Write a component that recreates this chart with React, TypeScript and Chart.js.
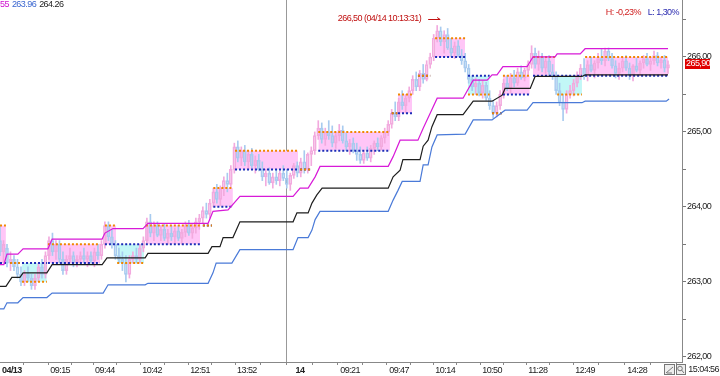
import React, { useEffect, useRef } from "react";
import { Chart, registerables } from "chart.js";

Chart.register(...registerables);

const FONT = "'Liberation Sans', Arial, sans-serif";
const LETTER = "-0.55px";

// ---- axes ----
const X_MAX = 195;
const Y_MIN = 261.93;
const Y_MAX = 266.76;
const xTickPos = [3.4, 17.2, 30, 43.5, 57.2, 70.6, 85.8, 100.1, 114.1, 127.3, 140.7, 153.8, 167.3, 182.2];
const xTickLabels = ["04/13", "09:15", "09:44", "10:42", "12:51", "13:52", "14", "09:21", "09:47", "10:14", "10:50", "11:28", "12:49", "14:28"];
const dayBreaks = [3.4, 85.8];
const yTickValues = [262, 262.5, 263, 263.5, 264, 264.5, 265, 265.5, 266, 266.5];

// ---- candles: [open, high, low, close], one per bar index ----
const ohlc: [number, number, number, number][] = [
  [263.55, 263.75, 263.35, 263.40], [263.40, 263.55, 263.25, 263.50], [263.45, 263.50, 263.20, 263.25],
  [263.25, 263.40, 263.15, 263.30], [263.30, 263.35, 263.15, 263.20], [263.20, 263.30, 263.05, 263.10],
  [263.10, 263.20, 262.95, 263.00], [263.00, 263.15, 262.95, 263.10], [263.10, 263.20, 263.00, 263.05],
  [263.05, 263.10, 262.90, 262.95], [262.95, 263.10, 262.90, 263.05], [263.05, 263.25, 263.00, 263.20],
  [263.20, 263.30, 263.05, 263.10], [263.10, 263.40, 263.05, 263.35], [263.35, 263.60, 263.30, 263.55],
  [263.55, 263.65, 263.35, 263.40], [263.40, 263.55, 263.30, 263.50], [263.50, 263.55, 263.25, 263.30],
  [263.30, 263.40, 263.10, 263.15], [263.15, 263.35, 263.10, 263.30], [263.30, 263.45, 263.25, 263.35],
  [263.35, 263.40, 263.20, 263.25], [263.25, 263.35, 263.20, 263.30], [263.30, 263.40, 263.25, 263.35],
  [263.35, 263.45, 263.25, 263.30], [263.30, 263.40, 263.20, 263.35], [263.35, 263.40, 263.25, 263.28],
  [263.28, 263.45, 263.20, 263.40], [263.40, 263.50, 263.30, 263.35], [263.35, 263.55, 263.30, 263.50],
  [263.50, 263.80, 263.45, 263.75], [263.75, 263.80, 263.55, 263.60], [263.60, 263.70, 263.45, 263.50],
  [263.50, 263.55, 263.30, 263.35], [263.35, 263.45, 263.25, 263.30], [263.30, 263.40, 263.15, 263.25],
  [263.25, 263.35, 263.00, 263.10], [263.10, 263.35, 263.05, 263.30], [263.30, 263.40, 263.25, 263.35],
  [263.35, 263.45, 263.25, 263.30], [263.30, 263.50, 263.25, 263.45], [263.45, 263.60, 263.40, 263.55],
  [263.55, 263.85, 263.50, 263.80], [263.80, 263.90, 263.60, 263.65], [263.65, 263.80, 263.55, 263.75],
  [263.75, 263.80, 263.60, 263.62], [263.62, 263.75, 263.55, 263.70], [263.70, 263.78, 263.55, 263.58],
  [263.58, 263.70, 263.50, 263.65], [263.65, 263.75, 263.55, 263.60], [263.60, 263.72, 263.52, 263.68],
  [263.68, 263.75, 263.55, 263.58], [263.58, 263.70, 263.50, 263.66], [263.66, 263.80, 263.60, 263.75],
  [263.75, 263.82, 263.62, 263.65], [263.65, 263.78, 263.58, 263.72], [263.72, 263.85, 263.65, 263.80],
  [263.80, 263.90, 263.70, 263.85], [263.85, 264.00, 263.78, 263.95], [263.95, 264.05, 263.85, 263.90],
  [263.90, 264.10, 263.85, 264.05], [264.05, 264.25, 264.00, 264.20], [264.20, 264.30, 264.05, 264.10],
  [264.10, 264.28, 264.02, 264.25], [264.25, 264.40, 264.15, 264.35], [264.35, 264.45, 264.20, 264.30],
  [264.30, 264.55, 264.25, 264.50], [264.50, 264.85, 264.45, 264.80], [264.80, 264.88, 264.60, 264.65],
  [264.65, 264.80, 264.55, 264.75], [264.75, 264.82, 264.55, 264.60], [264.60, 264.75, 264.50, 264.70],
  [264.70, 264.78, 264.52, 264.55], [264.55, 264.68, 264.45, 264.62], [264.62, 264.70, 264.48, 264.50],
  [264.50, 264.60, 264.35, 264.40], [264.40, 264.50, 264.28, 264.45], [264.45, 264.52, 264.30, 264.32],
  [264.32, 264.45, 264.25, 264.40], [264.40, 264.50, 264.30, 264.35], [264.35, 264.48, 264.28, 264.45],
  [264.45, 264.55, 264.35, 264.38], [264.38, 264.50, 264.25, 264.30], [264.30, 264.45, 264.22, 264.42],
  [264.42, 264.58, 264.38, 264.55], [264.55, 264.60, 264.40, 264.45], [264.45, 264.65, 264.40, 264.60],
  [264.60, 264.75, 264.45, 264.50], [264.50, 264.72, 264.45, 264.70], [264.70, 264.80, 264.55, 264.75],
  [264.75, 265.00, 264.70, 264.95], [264.95, 265.15, 264.90, 265.05], [265.05, 265.12, 264.85, 264.90],
  [264.90, 265.05, 264.82, 265.00], [265.00, 265.15, 264.90, 264.95], [264.95, 265.08, 264.80, 264.85],
  [264.85, 265.00, 264.78, 264.95], [264.95, 265.10, 264.88, 265.02], [265.02, 265.08, 264.85, 264.88],
  [264.88, 264.98, 264.75, 264.80], [264.80, 264.90, 264.70, 264.85], [264.85, 264.92, 264.72, 264.75],
  [264.75, 264.85, 264.62, 264.70], [264.70, 264.80, 264.58, 264.62], [264.62, 264.75, 264.58, 264.72],
  [264.72, 264.80, 264.62, 264.65], [264.65, 264.82, 264.60, 264.78], [264.78, 264.88, 264.70, 264.85],
  [264.85, 264.92, 264.75, 264.80], [264.80, 264.95, 264.76, 264.92], [264.92, 265.05, 264.85, 265.00],
  [265.00, 265.15, 264.95, 265.10], [265.10, 265.30, 265.05, 265.25], [265.25, 265.40, 265.15, 265.20],
  [265.20, 265.45, 265.15, 265.40], [265.40, 265.55, 265.30, 265.35], [265.35, 265.50, 265.25, 265.45],
  [265.45, 265.60, 265.40, 265.55], [265.55, 265.75, 265.50, 265.70], [265.70, 265.80, 265.55, 265.60],
  [265.60, 265.82, 265.55, 265.78], [265.78, 265.90, 265.65, 265.70], [265.70, 265.95, 265.68, 265.90],
  [265.90, 266.05, 265.85, 266.00], [266.00, 266.30, 265.95, 266.25], [266.25, 266.42, 266.20, 266.35],
  [266.35, 266.40, 266.15, 266.20], [266.20, 266.35, 266.05, 266.30], [266.30, 266.38, 266.10, 266.12],
  [266.12, 266.25, 266.00, 266.05], [266.05, 266.20, 265.98, 266.15], [266.15, 266.22, 266.00, 266.02],
  [266.02, 266.10, 265.90, 265.95], [265.95, 266.05, 265.80, 265.85], [265.85, 265.90, 265.65, 265.70],
  [265.70, 265.75, 265.55, 265.60], [265.60, 265.72, 265.50, 265.65], [265.65, 265.70, 265.48, 265.52],
  [265.52, 265.68, 265.45, 265.62], [265.62, 265.66, 265.42, 265.45], [265.45, 265.55, 265.30, 265.35],
  [265.35, 265.42, 265.18, 265.25], [265.25, 265.40, 265.20, 265.35], [265.35, 265.55, 265.30, 265.50],
  [265.50, 265.70, 265.45, 265.65], [265.65, 265.75, 265.55, 265.58], [265.58, 265.78, 265.52, 265.72],
  [265.72, 265.82, 265.60, 265.65], [265.65, 265.85, 265.62, 265.80], [265.80, 265.88, 265.70, 265.72],
  [265.72, 265.85, 265.68, 265.82], [265.82, 265.95, 265.75, 265.90], [265.90, 266.15, 265.85, 266.05],
  [266.05, 266.12, 265.85, 265.90], [265.90, 266.08, 265.82, 266.00], [266.00, 266.05, 265.80, 265.85],
  [265.85, 265.98, 265.78, 265.95], [265.95, 266.02, 265.75, 265.80], [265.80, 265.90, 265.70, 265.75],
  [265.75, 265.80, 265.50, 265.55], [265.55, 265.65, 265.35, 265.40], [265.40, 265.50, 265.15, 265.30],
  [265.30, 265.55, 265.25, 265.50], [265.50, 265.62, 265.45, 265.55], [265.55, 265.70, 265.48, 265.65],
  [265.65, 265.80, 265.60, 265.75], [265.75, 265.90, 265.70, 265.85], [265.85, 265.98, 265.70, 265.75],
  [265.75, 265.95, 265.68, 265.90], [265.90, 266.00, 265.80, 265.82], [265.82, 265.95, 265.72, 265.92],
  [265.92, 266.05, 265.85, 265.98], [265.98, 266.10, 265.90, 265.95], [265.95, 266.12, 265.88, 266.08],
  [266.08, 266.12, 265.95, 265.98], [265.98, 266.05, 265.85, 265.88], [265.88, 265.95, 265.72, 265.78],
  [265.78, 265.92, 265.70, 265.85], [265.85, 266.00, 265.80, 265.95], [265.95, 266.02, 265.82, 265.85],
  [265.85, 265.92, 265.70, 265.75], [265.75, 265.90, 265.68, 265.88], [265.88, 265.98, 265.80, 265.82],
  [265.82, 265.95, 265.75, 265.92], [265.92, 266.02, 265.85, 265.98], [265.98, 266.05, 265.88, 265.90],
  [265.90, 266.00, 265.82, 265.95], [265.95, 266.08, 265.90, 266.02], [266.02, 266.06, 265.88, 265.92],
  [265.92, 266.00, 265.85, 265.96], [265.96, 266.02, 265.80, 265.85], [265.85, 265.95, 265.78, 265.90],
];

// ---- stepped envelope lines: [bar index, price] ----
const magentaLine: [number, number][] = [
  [0, 263.23], [1.1, 263.23], [2, 263.37], [5.1, 263.37], [6.6, 263.44], [13.7, 263.44], [14.9, 263.57],
  [29.2, 263.57], [30, 263.65], [32.3, 263.71], [40.9, 263.71], [42.3, 263.78], [59.5, 263.78], [60.9, 263.94],
  [65.2, 263.96], [68.6, 264.14], [83.8, 264.14], [85.8, 264.25], [88.1, 264.25], [90.1, 264.4], [91.5, 264.54],
  [111, 264.54], [112.4, 264.67], [114.4, 264.89], [119.5, 264.89], [121, 265.05], [123, 265.25], [125, 265.45],
  [132.4, 265.45], [135.3, 265.69], [139.3, 265.69], [140.7, 265.76], [142.1, 265.76], [143.8, 265.87],
  [150.7, 265.87], [152.4, 266.0], [158.7, 266.0], [159.3, 266.04], [165.9, 266.04], [167.3, 266.11], [191, 266.11],
];
const blackLine: [number, number][] = [
  [0, 262.94], [1.7, 262.94], [3.4, 263.06], [5.7, 263.06], [6.6, 263.12], [13.4, 263.12], [14.9, 263.23],
  [29.2, 263.23], [30.6, 263.32], [41.5, 263.32], [42.3, 263.38], [59.5, 263.38], [60.6, 263.47], [62.9, 263.47],
  [63.8, 263.59], [66.6, 263.59], [68.6, 263.8], [83.8, 263.8], [84.9, 263.92], [88.1, 263.92], [89.2, 264.05],
  [90.6, 264.16], [92.1, 264.25], [111, 264.25], [112.4, 264.4], [114.4, 264.49], [115.2, 264.63], [120.1, 264.63],
  [121, 264.81], [122.4, 264.89], [123.5, 265.07], [125, 265.23], [132.4, 265.23], [135.3, 265.41], [140.7, 265.41],
  [143.6, 265.49], [144.4, 265.58], [151.6, 265.58], [153, 265.74], [166.4, 265.74], [167.3, 265.76], [191, 265.76],
];
const blueLine: [number, number][] = [
  [0, 262.64], [1.1, 262.64], [2, 262.72], [5.1, 262.72], [6.6, 262.79], [13.4, 262.79], [14.9, 262.85],
  [29.5, 262.85], [30.9, 262.96], [41.5, 262.96], [42.3, 262.98], [59.5, 262.98], [60.9, 263.12], [61.8, 263.25],
  [66.3, 263.25], [68.6, 263.43], [83.8, 263.43], [85.2, 263.59], [88.1, 263.59], [89.2, 263.69], [90.1, 263.83],
  [91.5, 263.94], [111, 263.94], [112.4, 264.09], [113.8, 264.22], [115, 264.34], [120.1, 264.34], [121, 264.56],
  [122.4, 264.56], [123.5, 264.8], [125, 264.96], [133, 264.97], [135.3, 265.16], [140.7, 265.16], [144.4, 265.29],
  [150.7, 265.29], [152.4, 265.39], [166.4, 265.39], [167.3, 265.41], [190.5, 265.41], [191.3, 265.44],
];

// ---- level boxes (orange dotted level vs blue dotted level) ----
const boxStart = [0, 2.9, 6.3, 13.7, 30, 33.5, 41.7, 58, 61, 67.2, 85.8, 91, 112, 113.8, 119.5, 124.4, 133.8, 140.7, 143.8, 152.4, 159.3, 167.3];
const boxEnd = [1.7, 5.7, 13.4, 28.6, 33.2, 41.2, 57.2, 60.6, 66.6, 85.2, 89.2, 111.5, 113.6, 117.8, 123, 133, 140, 143.5, 151.5, 158.7, 166.4, 191];
const boxOrange = [263.75, 263.25, 263.0, 263.5, 263.75, 263.25, 263.75, 263.75, 264.25, 264.75, 264.5, 265.0, 265.25, 265.5, 265.75, 266.25, 265.5, 265.25, 265.75, 266.0, 265.5, 266.0];
const boxBlue = [263.25, 263.25, 263.25, 263.25, 263.5, 263.5, 263.5, 263.75, 264.0, 264.5, 264.5, 264.75, 265.25, 265.25, 265.75, 266.0, 265.75, 265.25, 265.5, 265.75, 265.75, 265.75];

// ---- texts ----
const headerParts: [string, string][] = [["55", "#d010d0"], ["263.96", "#3a66d0"], ["264.26", "#222222"]];
const hiLoParts: [string, string][] = [["H: -0,23%", "#d02020"], ["L: 1,30%", "#2a2ab0"]];
const highNote = "266,50 (04/14 10:13:31)";
const highBar = 125;
const highLevel = 266.5;
const lastPrice = 265.9;
const lastPriceText = "265,90";
const clockText = "15:04:56";

const UP = "#f2aade";
const DOWN = "#a8cbef";

const boxPoints = (levels: number[]) =>
  boxStart.flatMap((s, i) => [
    { x: s, y: levels[i] },
    { x: boxEnd[i], y: levels[i] },
    { x: (boxEnd[i] + (i + 1 < boxStart.length ? boxStart[i + 1] : boxEnd[i] + 1)) / 2, y: null as any },
  ]);

const spacingPlugin = {
  id: "spacing",
  beforeLayout(chart: any) {
    (chart.ctx as any).letterSpacing = LETTER;
  },
  beforeDraw(chart: any) {
    (chart.ctx as any).letterSpacing = LETTER;
  },
};

const overlayPlugin = {
  id: "overlay",
  afterDraw(chart: any) {
    const { ctx, chartArea, scales } = chart;
    const xs = scales.x;
    const ys = scales.y;
    ctx.save();
    (ctx as any).letterSpacing = LETTER;
    ctx.font = `9px ${FONT}`;
    ctx.textBaseline = "middle";
    ctx.textAlign = "left";
    let px = 0;
    for (const [t, c] of headerParts) {
      ctx.fillStyle = c;
      ctx.fillText(t, px, 5);
      px += ctx.measureText(t).width + 3;
    }
    ctx.textAlign = "right";
    let rx = chartArea.right - 3;
    for (let i = hiLoParts.length - 1; i >= 0; i--) {
      const [t, c] = hiLoParts[i];
      ctx.fillStyle = c;
      ctx.fillText(t, rx, 13);
      rx -= ctx.measureText(t).width + 7;
    }
    const hx = xs.getPixelForValue(highBar);
    const hy = ys.getPixelForValue(highLevel);
    ctx.fillStyle = "#c01010";
    ctx.fillText(highNote, hx - 16, hy - 1);
    ctx.strokeStyle = "#c01010";
    ctx.lineWidth = 1;
    ctx.beginPath();
    ctx.moveTo(hx - 9, Math.round(hy) + 0.5);
    ctx.lineTo(hx + 3, Math.round(hy) + 0.5);
    ctx.moveTo(hx + 3, Math.round(hy) + 0.5);
    ctx.lineTo(hx, Math.round(hy) - 1.5);
    ctx.stroke();
    // last price box
    const py = Math.round(ys.getPixelForValue(lastPrice));
    ctx.fillStyle = "#e00000";
    ctx.fillRect(chartArea.right + 3, py - 5, 25, 10);
    ctx.fillStyle = "#ffffff";
    ctx.textAlign = "left";
    ctx.fillText(lastPriceText, chartArea.right + 4, py);
    // bottom-right icons and clock
    const iy = chartArea.bottom + 2;
    const ix = 664.5;
    ctx.strokeStyle = "#777";
    ctx.fillStyle = "#eeeeee";
    ctx.fillRect(ix, iy + 0.5, 10, 10);
    ctx.strokeRect(ix, iy + 0.5, 10, 10);
    ctx.fillRect(ix + 12, iy + 0.5, 9, 10);
    ctx.strokeRect(ix + 12, iy + 0.5, 9, 10);
    ctx.beginPath();
    ctx.moveTo(ix + 1.5, iy + 9);
    ctx.lineTo(ix + 8.5, iy + 3);
    ctx.moveTo(ix + 2.5, iy + 9);
    ctx.lineTo(ix + 7.5, iy + 9);
    ctx.stroke();
    ctx.beginPath();
    ctx.arc(ix + 15.5, iy + 4.5, 2.3, 0, Math.PI * 2);
    ctx.moveTo(ix + 17, iy + 6);
    ctx.lineTo(ix + 19.5, iy + 9);
    ctx.stroke();
    ctx.fillStyle = "#222";
    ctx.textAlign = "right";
    ctx.fillText(clockText, 719, iy + 6);
    ctx.restore();
  },
};

export default function App() {
  const ref = useRef<HTMLCanvasElement>(null);
  useEffect(() => {
    const bodies = ohlc.map(([o, , , c], i) => ({ x: i, y: [Math.min(o, c), Math.max(o, c)] }));
    const bodyColors = ohlc.map(([o, , , c]) => (c >= o ? UP : DOWN));
    const upperWicks = ohlc.map(([o, h, , c], i) => ({ x: i, y: [Math.max(o, c), h] }));
    const lowerWicks = ohlc.map(([o, , l, c], i) => ({ x: i, y: [l, Math.min(o, c)] }));
    const toPts = (arr: [number, number][]) => arr.map(([x, y]) => ({ x, y }));
    const lineCommon = { type: "line" as const, pointRadius: 0, borderWidth: 1.2, tension: 0, fill: false, order: 0 };

    const chart = new Chart(ref.current as HTMLCanvasElement, {
      type: "line",
      data: {
        datasets: [
          { ...lineCommon, data: toPts(magentaLine), borderColor: "#d81ad8" },
          { ...lineCommon, data: toPts(blackLine), borderColor: "#1e1e1e" },
          { ...lineCommon, data: toPts(blueLine), borderColor: "#4a7ad8" },
          {
            type: "line",
            data: boxPoints(boxOrange),
            borderColor: "#f08800",
            borderWidth: 2,
            borderDash: [2, 2],
            pointRadius: 0,
            spanGaps: false,
            fill: { target: 4, above: "#ffc6f7", below: "#c2f7f7" },
            order: 1,
          },
          {
            type: "line",
            data: boxPoints(boxBlue),
            borderColor: "#1c2cb8",
            borderWidth: 2,
            borderDash: [2, 2],
            pointRadius: 0,
            spanGaps: false,
            fill: false,
            order: 1,
          },
          {
            type: "bar",
            data: bodies as any,
            backgroundColor: "rgba(255,255,255,0)",
            borderColor: bodyColors,
            borderWidth: 1,
            borderSkipped: false,
            barThickness: 3,
            minBarLength: 1,
            grouped: false,
            order: 2,
          },
          {
            type: "bar",
            data: upperWicks as any,
            backgroundColor: bodyColors,
            borderWidth: 0,
            barThickness: 1,
            grouped: false,
            order: 3,
          },
          {
            type: "bar",
            data: lowerWicks as any,
            backgroundColor: bodyColors,
            borderWidth: 0,
            barThickness: 1,
            grouped: false,
            order: 3,
          },
        ] as any,
      },
      options: {
        responsive: false,
        animation: false,
        devicePixelRatio: 1,
        layout: { padding: 0 },
        plugins: {
          legend: { display: false },
          tooltip: { enabled: false },
          filler: { drawTime: "beforeDatasetsDraw" },
        } as any,
        scales: {
          x: {
            type: "linear",
            min: 0,
            max: X_MAX,
            offset: false,
            afterBuildTicks: (axis: any) => {
              const t: number[] = [];
              xTickPos.forEach((p, i) => {
                t.push(p);
                if (i + 1 < xTickPos.length) t.push((p + xTickPos[i + 1]) / 2);
              });
              t.push(xTickPos[xTickPos.length - 1] + (xTickPos[xTickPos.length - 1] - xTickPos[xTickPos.length - 2]) / 2);
              axis.ticks = t.map((v) => ({ value: v }));
            },
            afterFit: (s: any) => {
              s.height = 14;
              s.paddingLeft = 0;
              s.paddingRight = 0;
            },
            ticks: {
              autoSkip: false,
              maxRotation: 0,
              padding: 0,
              color: "#222",
              font: (c: any) => ({
                family: FONT,
                size: 9,
                weight: c.tick && dayBreaks.includes(c.tick.value) ? "bold" : "normal",
              }),
              callback: (v: any) => {
                const i = xTickPos.indexOf(Number(v));
                return i >= 0 ? xTickLabels[i] : "";
              },
            },
            grid: {
              drawOnChartArea: true,
              drawTicks: true,
              tickLength: 3,
              tickColor: "#888",
              lineWidth: 1,
              color: (c: any) => {
                if (!c.tick) return "rgba(0,0,0,0)";
                if (c.tick.value === dayBreaks[0]) return "#444";
                if (c.tick.value === dayBreaks[1]) return "#999";
                return "rgba(0,0,0,0)";
              },
            },
            border: { display: true, color: "#888", width: 1 },
          },
          y: {
            type: "linear",
            position: "right",
            min: Y_MIN,
            max: Y_MAX,
            afterBuildTicks: (axis: any) => {
              axis.ticks = yTickValues.map((v) => ({ value: v }));
            },
            afterFit: (s: any) => {
              s.width = 38;
              s.paddingTop = 0;
              s.paddingBottom = 0;
            },
            ticks: {
              autoSkip: false,
              padding: 1,
              color: "#222",
              font: { family: FONT, size: 9 },
              callback: (v: any) => (Number.isInteger(Number(v)) ? Number(v).toFixed(2).replace(".", ",") : ""),
            },
            grid: { drawOnChartArea: false, drawTicks: true, tickLength: 4, tickColor: "#777" },
            border: { display: true, color: "#888", width: 1 },
          },
        },
      } as any,
      plugins: [spacingPlugin, overlayPlugin],
    });
    return () => chart.destroy();
  }, []);

  return (
    <div style={{ position: "fixed", left: 0, top: 0, width: 720, height: 376, background: "#ffffff" }}>
      <canvas ref={ref} width={720} height={376} style={{ display: "block" }} />
    </div>
  );
}
